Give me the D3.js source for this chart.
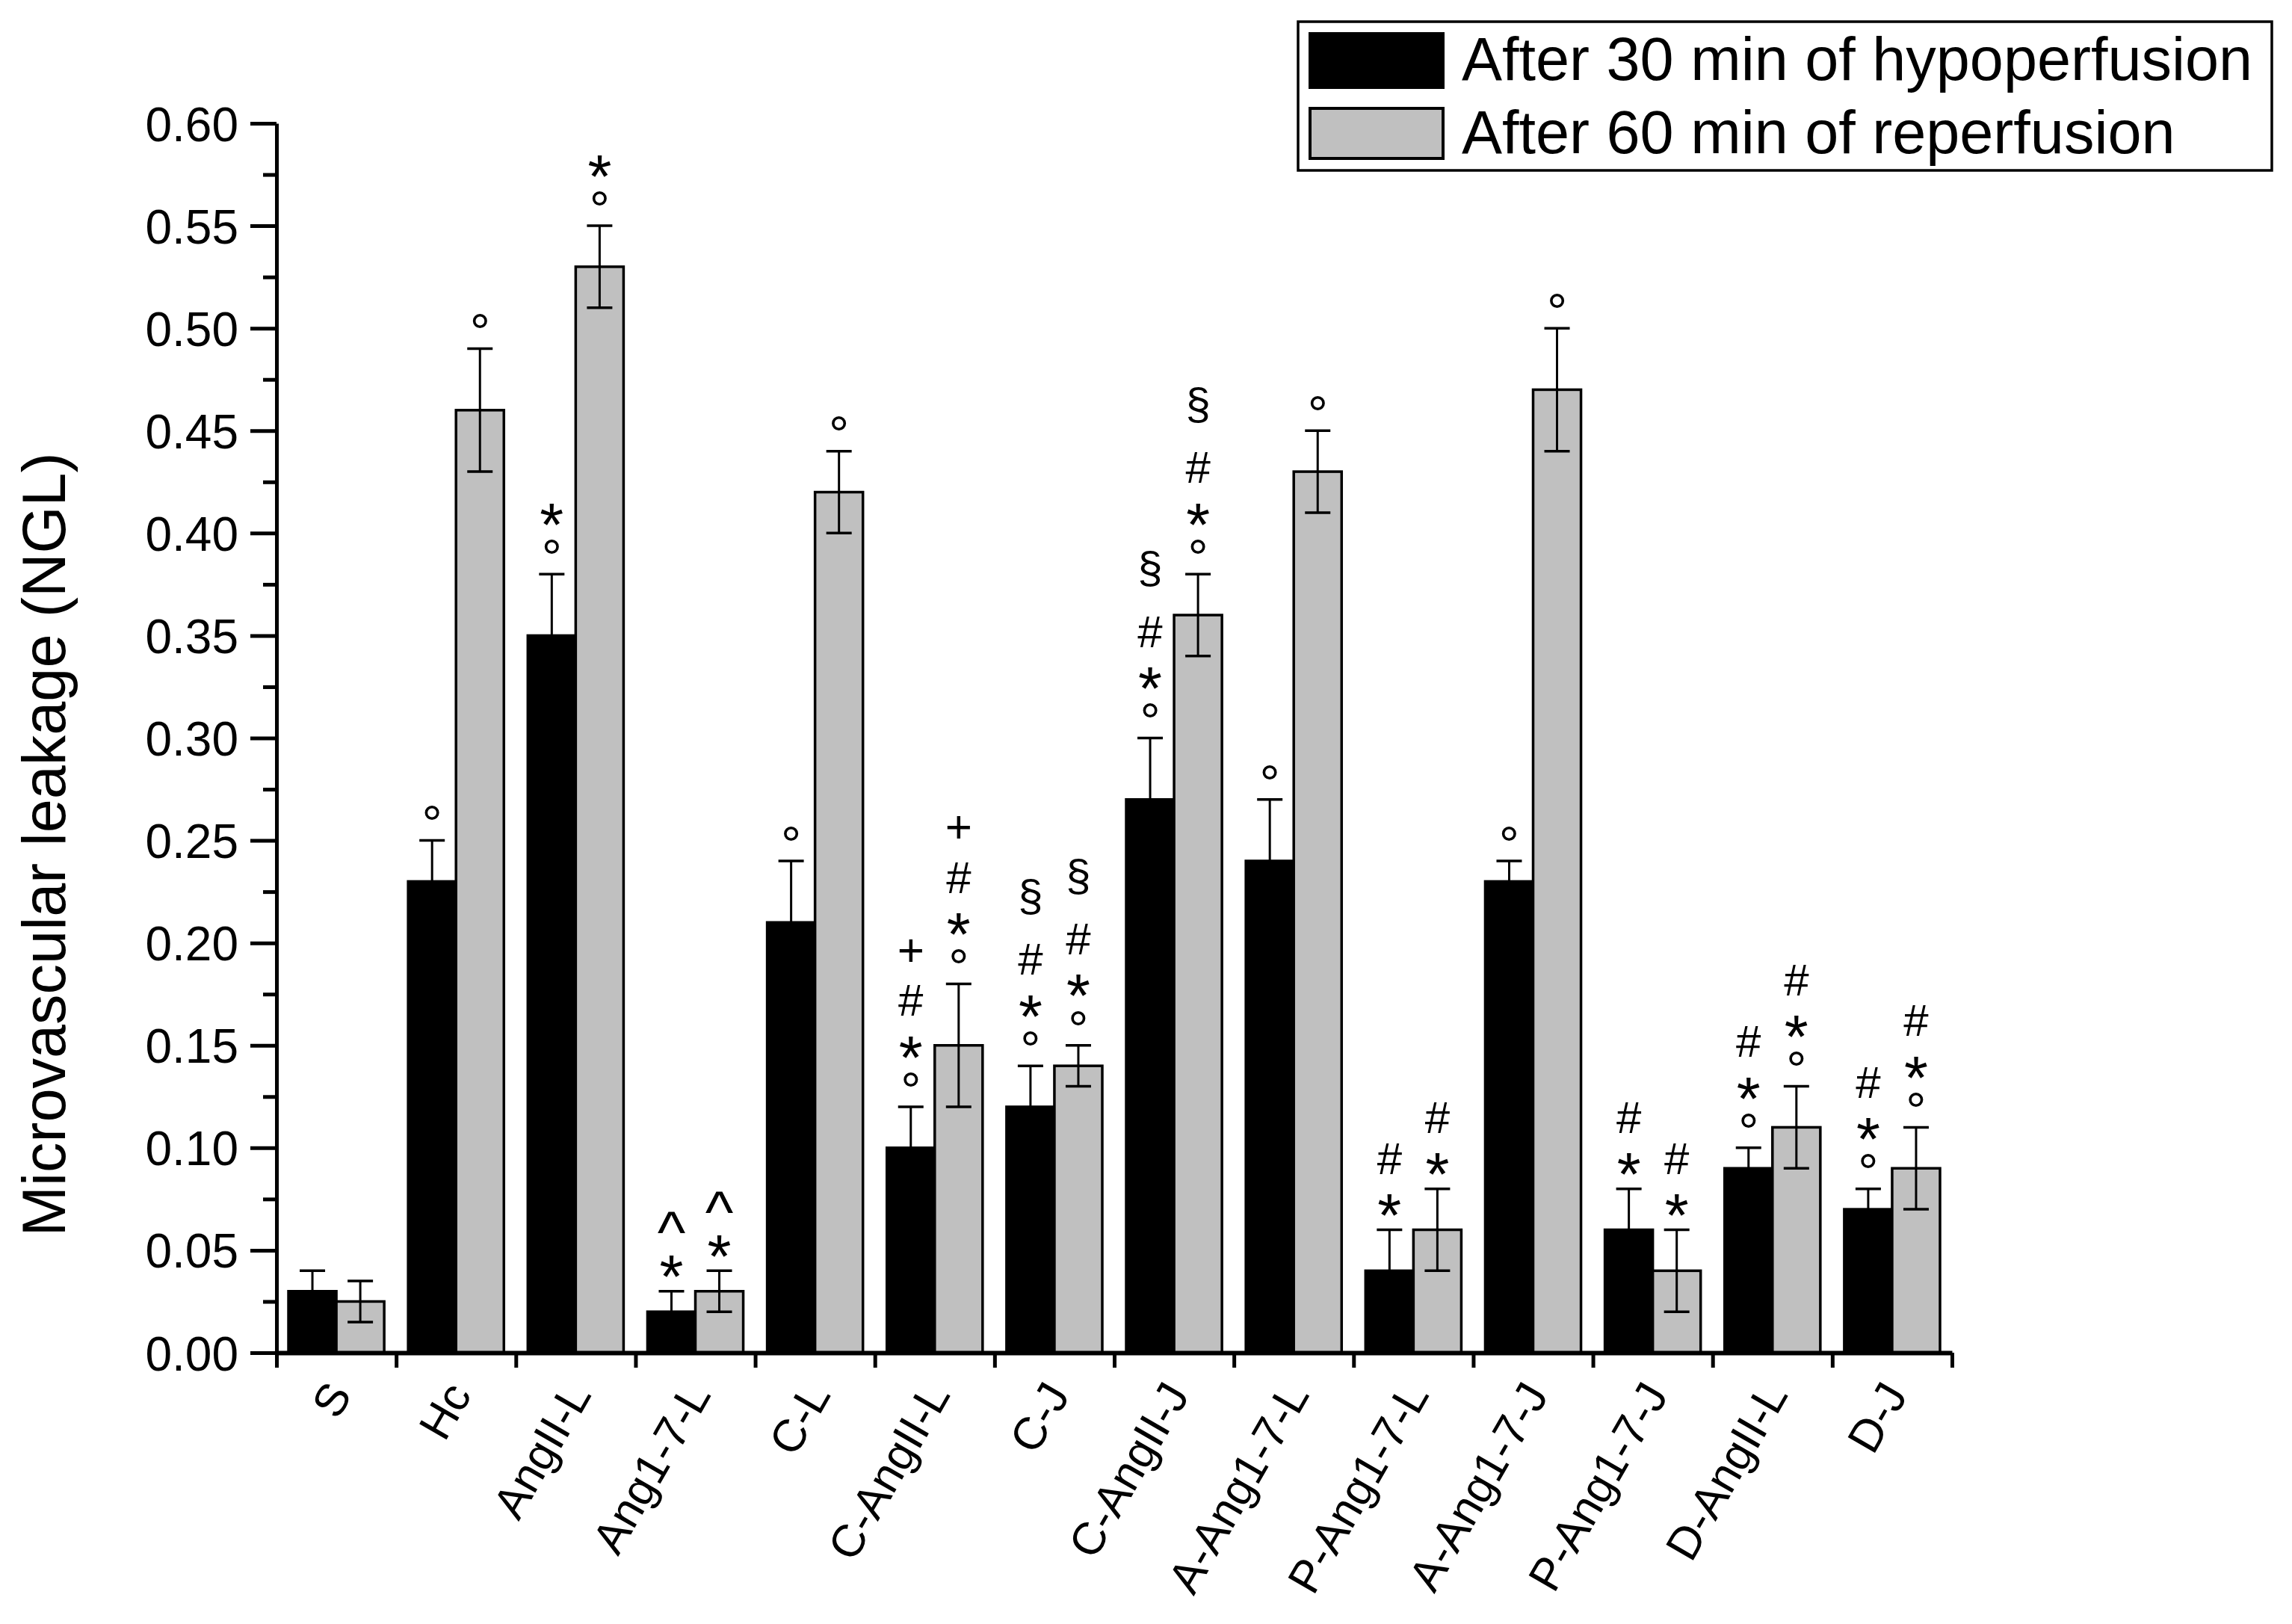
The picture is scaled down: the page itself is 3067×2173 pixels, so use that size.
<!DOCTYPE html>
<html>
<head>
<meta charset="utf-8">
<script src="https://cdn.jsdelivr.net/npm/d3@7"></script>
<style>
  html, body { margin: 0; padding: 0; background: #fff; }
  svg { display: block; }
  text { font-family: "Liberation Sans", Arial, sans-serif; fill: #000; }
</style>
</head>
<body>
<svg id="chart" width="3067" height="2173"></svg>
<script>
// ---------------- data ----------------
const categories = ["S", "Hc", "AngII-L", "Ang1-7-L", "C-L", "C-AngII-L", "C-J",
  "C-AngII-J", "A-Ang1-7-L", "P-Ang1-7-L", "A-Ang1-7-J", "P-Ang1-7-J", "D-AngII-L", "D-J"];
const seriesNames = ["After 30 min of hypoperfusion", "After 60 min of reperfusion"];
const hypoperfusion    = [0.03, 0.23, 0.35, 0.02, 0.21, 0.10, 0.12, 0.27, 0.24, 0.04, 0.23, 0.06, 0.09, 0.07];
const hypoperfusionErr = [0.01, 0.02, 0.03, 0.01, 0.03, 0.02, 0.02, 0.03, 0.03, 0.02, 0.01, 0.02, 0.01, 0.01];
const reperfusion      = [0.025, 0.46, 0.53, 0.03, 0.42, 0.15, 0.14, 0.36, 0.43, 0.06, 0.47, 0.04, 0.11, 0.09];
const reperfusionErr   = [0.01, 0.03, 0.02, 0.01, 0.02, 0.03, 0.01, 0.02, 0.02, 0.02, 0.03, 0.02, 0.02, 0.02];
// significance marks, listed bottom to top
const hypoperfusionMarks = [[], ["°"], ["°", "*"], ["*", "^"], ["°"], ["°", "*", "#", "+"], ["°", "*", "#", "§"],
  ["°", "*", "#", "§"], ["°"], ["*", "#"], ["°"], ["*", "#"], ["°", "*", "#"], ["°", "*", "#"]];
const reperfusionMarks = [[], ["°"], ["°", "*"], ["*", "^"], ["°"], ["°", "*", "#", "+"], ["°", "*", "#", "§"],
  ["°", "*", "#", "§"], ["°"], ["*", "#"], ["°"], ["*", "#"], ["°", "*", "#"], ["°", "*", "#"]];
const yTickValues = [0, 0.05, 0.10, 0.15, 0.20, 0.25, 0.30, 0.35, 0.40, 0.45, 0.50, 0.55, 0.60];
const yMinorValues = [0.025, 0.075, 0.125, 0.175, 0.225, 0.275, 0.325, 0.375, 0.425, 0.475, 0.525, 0.575];
const yTitle = "Microvascular leakage (NGL)";

// ---------------- layout ----------------
const svg = d3.select("#chart");
svg.append("rect").attr("width", 3067).attr("height", 2173).attr("fill", "#fff");

const X0 = 370, X1 = 2612, Y0 = 1810, Y1 = 165;
const colors = ["#000000", "#c0c0c0"];

const y = d3.scaleLinear().domain([0, 0.6]).range([Y0, Y1]);
const x0 = d3.scaleBand().domain(categories).range([X0, X1]).paddingInner(0.2).paddingOuter(0.1);
const x1 = d3.scaleBand().domain([0, 1]).range([0, x0.bandwidth()]).padding(0);

const series = [
  { vals: hypoperfusion, errs: hypoperfusionErr, marks: hypoperfusionMarks },
  { vals: reperfusion, errs: reperfusionErr, marks: reperfusionMarks }
];

// bars
series.forEach((s, si) => {
  svg.append("g").selectAll("rect").data(categories).join("rect")
    .attr("x", c => x0(c) + x1(si))
    .attr("y", (c, i) => y(s.vals[i]))
    .attr("width", x1.bandwidth())
    .attr("height", (c, i) => y(0) - y(s.vals[i]))
    .attr("fill", colors[si])
    .attr("stroke", "#000")
    .attr("stroke-width", 3.5);
});

// error bars
const capW = 34;
series.forEach((s, si) => {
  const g = svg.append("g").attr("stroke", "#000");
  categories.forEach((c, i) => {
    const cx = x0(c) + x1(si) + x1.bandwidth() / 2;
    const hi = y(s.vals[i] + s.errs[i]), lo = y(s.vals[i] - s.errs[i]);
    g.append("line").attr("x1", cx).attr("x2", cx).attr("y1", hi).attr("y2", lo).attr("stroke-width", 3);
    g.append("line").attr("x1", cx - capW / 2).attr("x2", cx + capW / 2).attr("y1", hi).attr("y2", hi).attr("stroke-width", 3.5);
    g.append("line").attr("x1", cx - capW / 2).attr("x2", cx + capW / 2).attr("y1", lo).attr("y2", lo).attr("stroke-width", 3.5);
  });
});

// significance marks: one text block per bar, one line per mark
const glyphStyle = {
  "°": { size: 68, cEm: 0.585, gap: 46 },
  "*": { size: 82, cEm: 0.57, gap: 47 },
  "^": { size: 80, cEm: 0.52, gap: 55 },
  "#": { size: 60, cEm: 0.35, gap: 58 },
  "+": { size: 62, cEm: 0.35, gap: 68 },
  "§": { size: 60, cEm: 0.265, gap: 80 }
};
series.forEach((s, si) => {
  const g = svg.append("g").attr("text-anchor", "middle");
  categories.forEach((c, i) => {
    if (!s.marks[i].length) return;
    const cx = x0(c) + x1(si) + x1.bandwidth() / 2;
    let cy = y(s.vals[i] + s.errs[i]) - 38;
    const t = g.append("text");
    s.marks[i].forEach((m, k) => {
      const st = glyphStyle[m];
      if (k > 0) cy -= st.gap;
      t.append("tspan").attr("x", cx).attr("y", cy + st.cEm * st.size)
        .attr("font-size", st.size).text(m);
    });
  });
});

// y axis
const yAxis = svg.append("g").attr("transform", `translate(${X0},0)`)
  .call(d3.axisLeft(y).tickValues(yTickValues).tickSize(35).tickSizeOuter(0).tickPadding(16)
    .tickFormat(d => d.toFixed(2)));
yAxis.select(".domain").attr("stroke-width", 5).attr("stroke", "#000");
yAxis.selectAll(".tick line").attr("stroke-width", 5).attr("stroke", "#000");
yAxis.selectAll(".tick text").attr("font-size", 64).attr("dy", "0.36em")
  .attr("font-family", "Liberation Sans, Arial, sans-serif").attr("fill", "#000");

const yMinor = svg.append("g").attr("transform", `translate(${X0},0)`)
  .call(d3.axisLeft(y).tickValues(yMinorValues).tickSize(18).tickFormat(""));
yMinor.select(".domain").remove();
yMinor.selectAll(".tick line").attr("stroke-width", 5).attr("stroke", "#000");

// x axis (ticks at group boundaries)
const xb = d3.scaleLinear().domain([0, categories.length]).range([X0, X1]);
const xAxis = svg.append("g").attr("transform", `translate(0,${Y0})`)
  .call(d3.axisBottom(xb).tickValues(d3.range(categories.length + 1)).tickSize(20).tickSizeOuter(0).tickFormat(""));
xAxis.select(".domain").attr("stroke-width", 6).attr("stroke", "#000");
xAxis.selectAll(".tick line").attr("stroke-width", 5).attr("stroke", "#000");

// x labels
svg.append("g").selectAll("text").data(categories).join("text")
  .attr("transform", c => `translate(${x0(c) + x0.bandwidth() / 2 + 22},1866) rotate(-60)`)
  .attr("text-anchor", "end")
  .attr("font-size", 61)
  .text(c => c);

// y title
svg.append("text")
  .attr("transform", "translate(87,1130) rotate(-90)")
  .attr("text-anchor", "middle")
  .attr("font-size", 81)
  .text(yTitle);

// legend
const lg = svg.append("g");
lg.append("rect").attr("x", 1737).attr("y", 29).attr("width", 1303).attr("height", 199)
  .attr("fill", "#fff").attr("stroke", "#000").attr("stroke-width", 3.5);
const legendRows = [{ y: 45, h: 72, base: 107 }, { y: 145, h: 67, base: 205 }];
seriesNames.forEach((n, i) => {
  lg.append("rect").attr("x", 1753).attr("y", legendRows[i].y).attr("width", 178).attr("height", legendRows[i].h)
    .attr("fill", colors[i]).attr("stroke", "#000").attr("stroke-width", 4);
  lg.append("text").attr("x", 1956).attr("y", legendRows[i].base).attr("font-size", 81).text(n);
});
</script>
</body>
</html>
